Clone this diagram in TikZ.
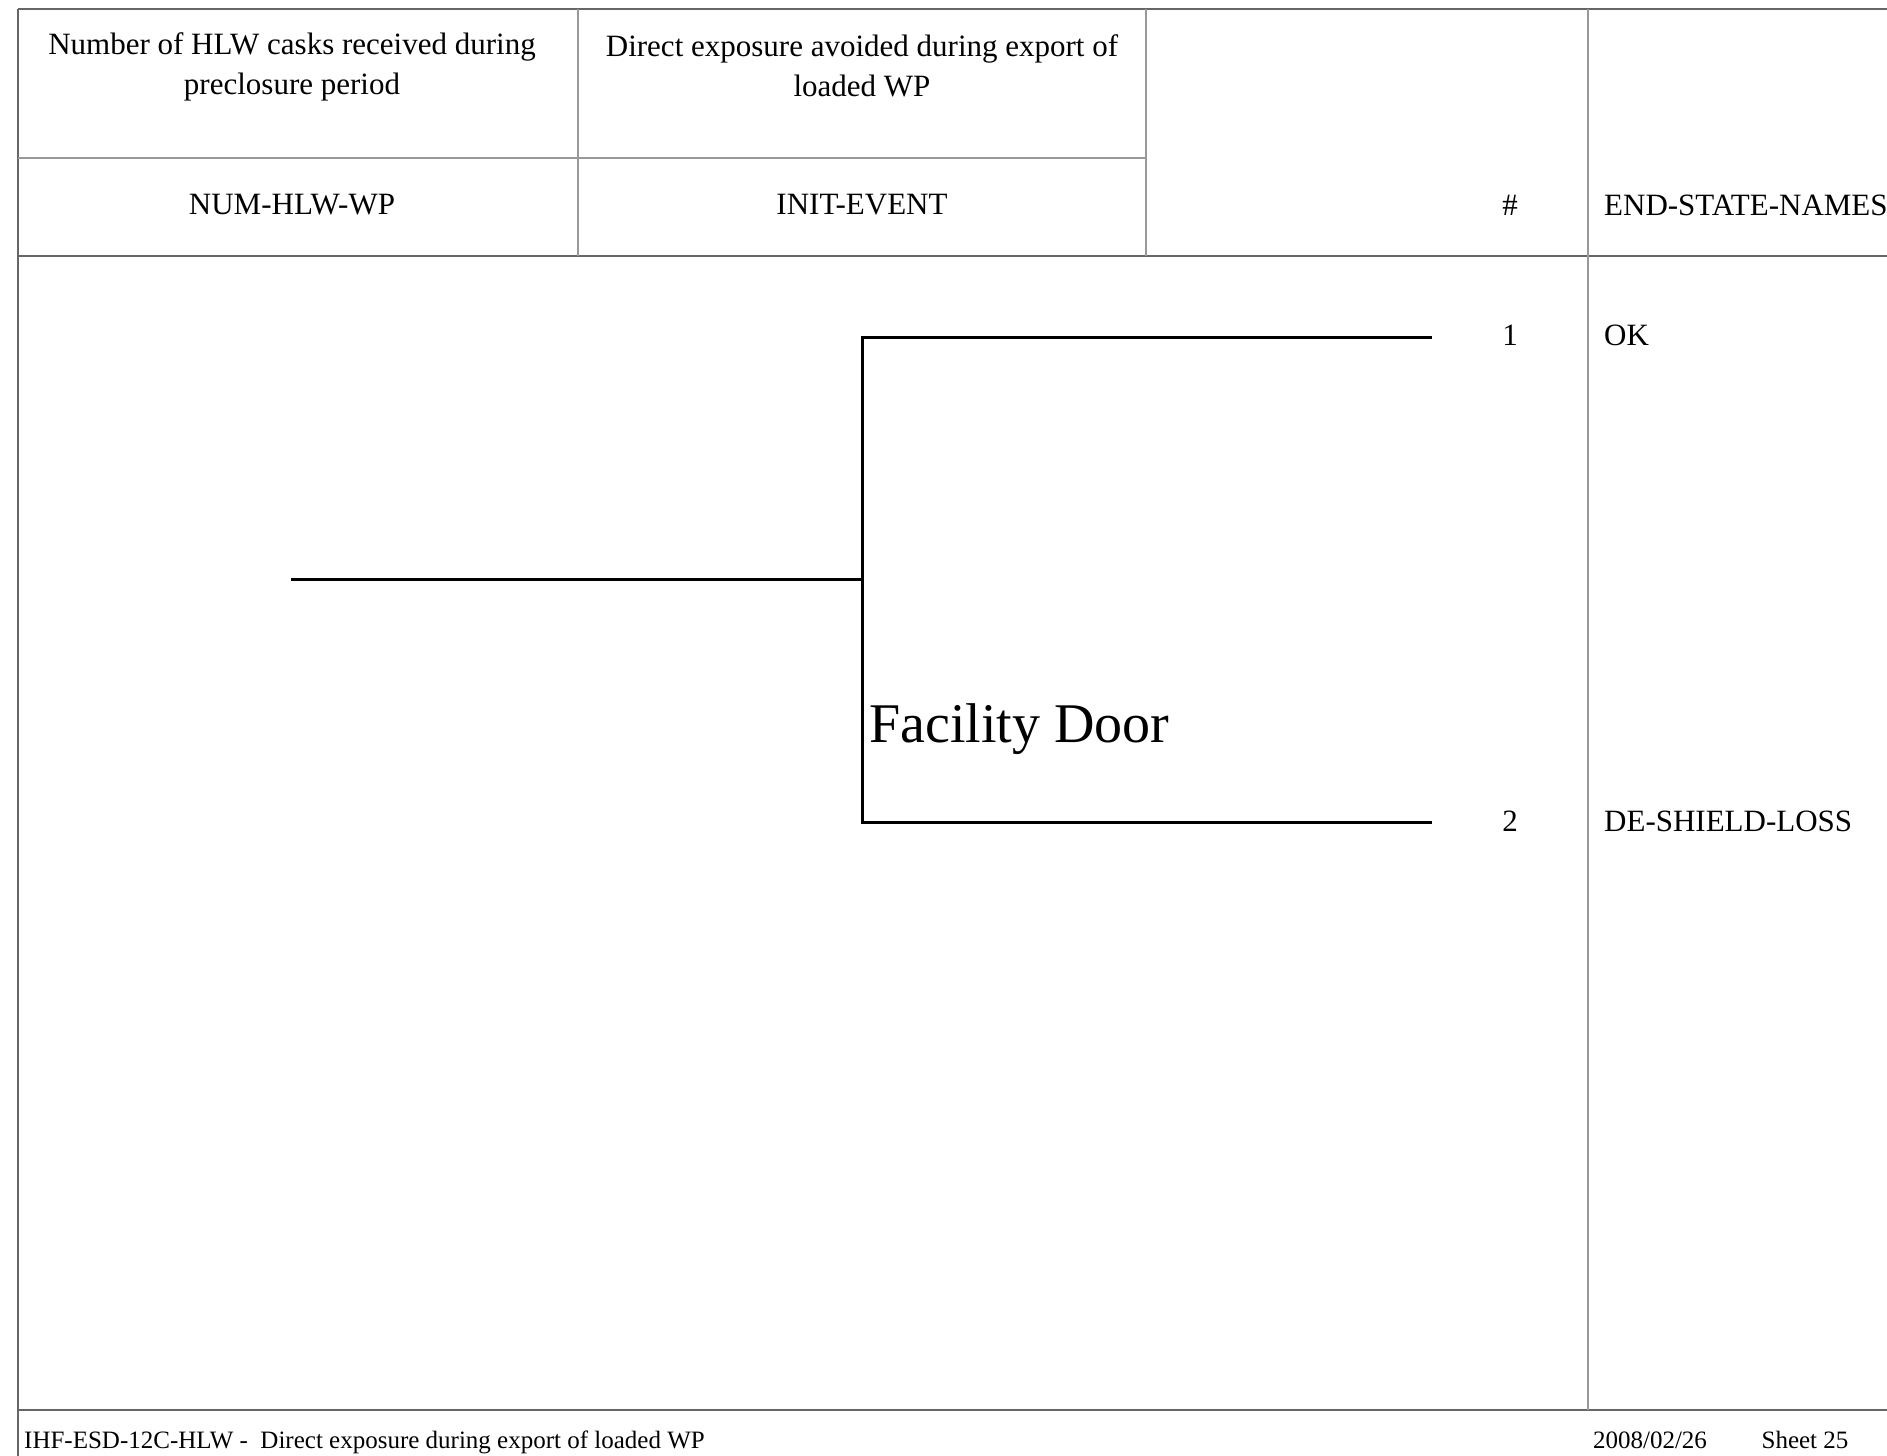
\documentclass[tikz,border=0pt]{standalone}
\usepackage{fontspec}
\setmainfont{Liberation Serif}
\tikzset{
  rule/.style={black!60, line width=1.5pt},
  divider/.style={black!40, line width=1.5pt},
  branch/.style={black, line width=3pt},
}
\begin{document}
\begin{tikzpicture}[x=1pt, y=-1pt, every node/.style={font=\fontsize{31}{40}\selectfont, inner sep=0pt}]
    \useasboundingbox (0,0) rectangle (1887,1456);
    % frame of the table
    \draw[rule] (18,9) -- (1887,9);
    \draw[rule] (18,256) -- (1887,256);
    \draw[rule] (18,1410) -- (1887,1410);
    \draw[rule] (18,9) -- (18,1456);
    \draw[divider] (18,158) -- (1146,158);
    \draw[divider] (1588,9) -- (1588,1410);
    \foreach \x in {578,1146}{
        \draw[divider] (\x,9) -- (\x,256);
    }
    % column heads
    \node[align=center] (desc1) at (292,67) {Number of HLW casks received during\\preclosure period};
    \node[align=center] (desc2) at (862,66) {Direct exposure avoided during export of\\loaded WP};
    \node (top1) at (292,205) {NUM-HLW-WP};
    \node (top2) at (862,205) {INIT-EVENT};
    \node (numhead) at (1510,205) {\#};
    \node[anchor=west] (endhead) at (1604,205) {END-STATE-NAMES};
    % event tree
    \coordinate (start) at (291,579);
    \coordinate (fork) at (862,579);
    \coordinate (up) at (862,337);
    \coordinate (down) at (862,822);
    \coordinate (end1) at (1432,337);
    \coordinate (end2) at (1432,822);
    \draw[branch] (start) -- (fork);
    \draw[branch] (end1) -- (up) -- (down) -- (end2);
    \node[anchor=base west, font=\fontsize{56}{60}\selectfont] (door) at (869,742) {Facility Door};
    \node (seq1) at (1510,335) {1};
    \node (seq2) at (1510,821) {2};
    \node[anchor=west] (state1) at (1604,335) {OK};
    \node[anchor=west] (state2) at (1604,821) {DE-SHIELD-LOSS};
    % footer
    \node[anchor=base west, font=\fontsize{25}{30}\selectfont] (title) at (24,1448) {IHF-ESD-12C-HLW -\ \ Direct exposure during export of loaded WP};
    \node[anchor=base, font=\fontsize{25}{30}\selectfont] (date) at (1650,1448) {2008/02/26};
    \node[anchor=base, font=\fontsize{25}{30}\selectfont] (sheet) at (1805,1448) {Sheet 25};
\end{tikzpicture}
\end{document}
